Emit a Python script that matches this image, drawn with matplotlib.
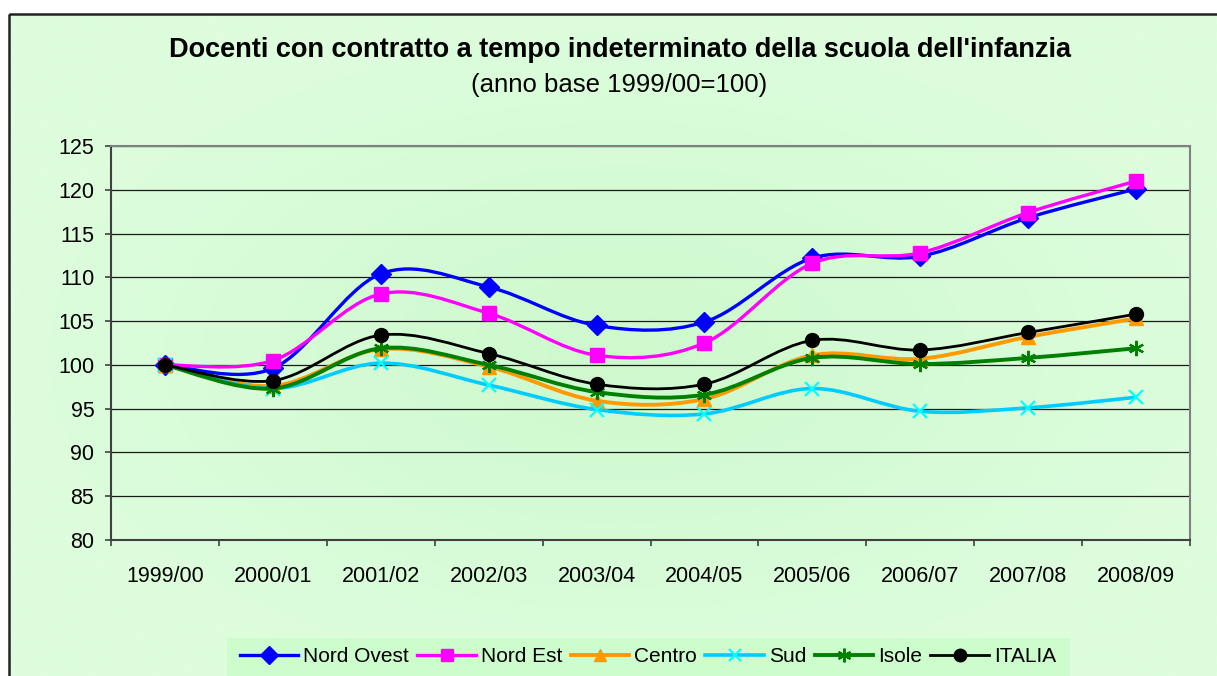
#!/usr/bin/env python3
import numpy as np
import matplotlib
matplotlib.use("Agg")
import matplotlib.pyplot as plt
from matplotlib.path import Path
from matplotlib.patches import PathPatch, Rectangle
from matplotlib.lines import Line2D

years = ["1999/00", "2000/01", "2001/02", "2002/03", "2003/04",
         "2004/05", "2005/06", "2006/07", "2007/08", "2008/09"]

nord_ovest = [100, 99.6, 110.4, 108.9, 104.5, 104.9, 112.2, 112.4, 116.8, 120.1]
nord_est   = [100, 100.5, 108.1, 105.9, 101.1, 102.5, 111.6, 112.8, 117.4, 121.0]
centro     = [100, 97.6, 101.8, 99.8, 95.9, 96.1, 101.1, 100.7, 103.2, 105.3]
sud        = [100, 97.3, 100.2, 97.7, 94.9, 94.4, 97.3, 94.7, 95.1, 96.3]
isole      = [100, 97.3, 101.9, 100.0, 96.9, 96.6, 100.8, 100.1, 100.8, 101.9]
italia     = [100, 98.2, 103.4, 101.3, 97.8, 97.8, 102.8, 101.7, 103.7, 105.8]

W, H = 1217, 676
fig = plt.figure(figsize=(W / 100, H / 100), dpi=100)
plt.rcParams['font.family'] = ['Liberation Sans', 'DejaVu Sans']

# background with soft radial gradient inside the frame
bg = fig.add_axes([0, 0, 1, 1], zorder=-10)
bg.set_xlim(0, W)
bg.set_ylim(H, 0)
bg.axis("off")
gx, gy = np.meshgrid(np.linspace(-1, 1, 300), np.linspace(-1, 1, 200))
r = np.clip(np.sqrt(gx ** 2 + gy ** 2), 0, 1)
edge = np.array([221, 253, 221]) / 255
mid = np.array([205, 249, 205]) / 255
img = mid + (edge - mid) * r[..., None]
bg.imshow(img, extent=(9, W + 20, H + 20, 14), aspect="auto", interpolation="bilinear")
bg.add_patch(Rectangle((8.5, 13.5), W + 50, H + 50, fill=False, edgecolor="#222222", lw=1.8))
# legend box
bg.add_patch(Rectangle((227, 638), 843, 60, facecolor="#cdfccd", edgecolor="none"))

ax = fig.add_axes([111 / W, 1 - 540 / H, (1190 - 111) / W, (540 - 146) / H])
ax.set_facecolor("none")


def smooth_path(xs, ys):
    # Excel-like smoothed line: Catmull-Rom as cubic Bezier segments
    pts = np.column_stack([xs, ys]).astype(float)
    ext = np.vstack([pts[0], pts, pts[-1]])
    verts = [pts[0]]
    codes = [Path.MOVETO]
    for i in range(len(pts) - 1):
        p0, p1, p2, p3 = ext[i], ext[i + 1], ext[i + 2], ext[i + 3]
        c1 = p1 + (p2 - p0) / 6
        c2 = p2 - (p3 - p1) / 6
        verts += [c1, c2, p2]
        codes += [Path.CURVE4] * 3
    return Path(verts, codes)


x = np.arange(len(years))
series = [
    ("Nord Ovest", nord_ovest, "#0000ff", "#0000ff", "D", 10, 2.4),
    ("Nord Est", nord_est, "#ff00ff", "#ff00ff", "s", 10, 2.4),
    ("Centro", centro, "#ff9900", "#ff9900", "^", 10, 2.8),
    ("Sud", sud, "#00ccff", "#00ffff", "x", 10, 2.6),
    ("Isole", isole, "#008000", "#008000", (6, 2, 0), 11, 2.8),
    ("ITALIA", italia, "#000000", "#000000", "o", 10, 2.0),
]

handles = []
for i, (name, vals, lc, mc, mk, ms, lw) in enumerate(series):
    patch = PathPatch(smooth_path(x, vals), fill=False, edgecolor=lc, lw=lw,
                      capstyle="round", joinstyle="round", zorder=3 + 2 * i)
    ax.add_patch(patch)
    mew = 1.6 if mk in ("x", (6, 2, 0)) else 1
    ax.plot(x, vals, linestyle="none", marker=mk, markersize=ms, color=mc,
            markeredgecolor=mc, markeredgewidth=mew, zorder=4 + 2 * i, clip_on=False)
    handles.append(Line2D([], [], color=lc, lw=lw, marker=mk, markersize=ms * 0.9,
                          markerfacecolor=mc, markeredgecolor=mc, markeredgewidth=mew))

ax.set_xlim(-0.5, len(years) - 0.5)
ax.set_ylim(80, 125)
ax.set_yticks(np.arange(80, 126, 5))
ax.set_xticks(x)
ax.set_xticklabels(years)
ax.set_xticks(np.arange(-0.5, len(years), 1), minor=True)
ax.tick_params(axis="x", which="major", length=0, pad=19, labelsize=15.5)
ax.tick_params(axis="x", which="minor", length=4, width=1.2, direction="out", color="#404040")
ax.tick_params(axis="y", length=4, width=1.2, direction="out", color="#404040", pad=8, labelsize=15.5)
ax.grid(axis="y", color="#1a1a1a", lw=0.9)
ax.set_axisbelow(True)
for s in ("top", "right"):
    ax.spines[s].set_color("#808080")
    ax.spines[s].set_linewidth(1.5)
for s in ("left", "bottom"):
    ax.spines[s].set_color("#404040")
    ax.spines[s].set_linewidth(1.5)

fig.text(620 / W, 1 - 50 / H, "Docenti con contratto a tempo indeterminato della scuola dell'infanzia",
         ha="center", va="center", fontsize=19.5, fontweight="bold")
fig.text(619 / W, 1 - 85 / H, "(anno base 1999/00=100)", ha="center", va="center", fontsize=18.5)

fig.legend(handles, [s[0] for s in series], loc="center", bbox_to_anchor=(648 / W, 1 - 657 / H),
           ncol=6, frameon=False, fontsize=15, handlelength=2.8, handletextpad=0.25,
           columnspacing=0.4)

fig.savefig("out.png", dpi=100)
